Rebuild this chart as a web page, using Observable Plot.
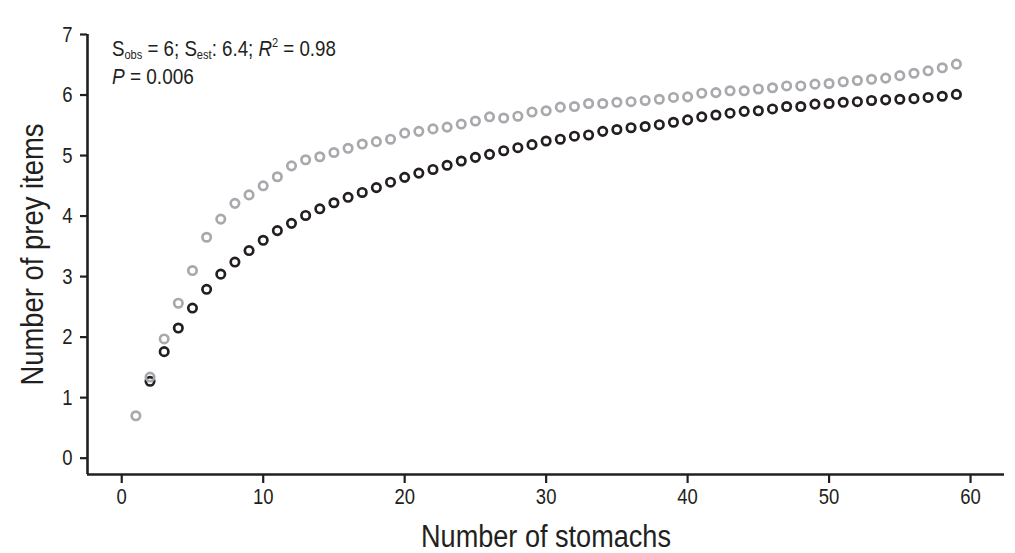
<!DOCTYPE html>
<html>
<head>
<meta charset="utf-8">
<script src="https://cdn.jsdelivr.net/npm/d3@7"></script>
<script src="https://cdn.jsdelivr.net/npm/@observablehq/plot@0.6"></script>
<style>
  html, body { margin: 0; padding: 0; background: #fff; }
  #chart svg { display: block; }
</style>
</head>
<body>
<div id="chart"></div>
<script>
// Number of stomachs (x) for each series
const stomachsObserved = d3.range(2, 60);   // black series, 2..59
const stomachsEstimated = d3.range(1, 60);  // gray series, 1..59

// Observed cumulative prey items (black)
const observedValues = [
  1.27, 1.76, 2.15, 2.48, 2.79, 3.04, 3.24, 3.43, 3.60, 3.76,
  3.88, 4.01, 4.12, 4.22, 4.31, 4.39, 4.47, 4.56, 4.64, 4.71,
  4.77, 4.84, 4.91, 4.97, 5.02, 5.08, 5.13, 5.18, 5.24, 5.27,
  5.32, 5.34, 5.40, 5.43, 5.46, 5.48, 5.51, 5.55, 5.59, 5.64,
  5.67, 5.70, 5.73, 5.74, 5.77, 5.81, 5.81, 5.85, 5.86, 5.88,
  5.89, 5.91, 5.92, 5.93, 5.94, 5.96, 5.98, 6.01
];

// Estimated prey items (gray)
const estimatedValues = [
  0.70, 1.34, 1.97, 2.56, 3.10, 3.65, 3.95, 4.21, 4.35, 4.50,
  4.65, 4.83, 4.93, 4.98, 5.05, 5.12, 5.19, 5.23, 5.27, 5.37,
  5.40, 5.44, 5.47, 5.52, 5.57, 5.64, 5.62, 5.65, 5.72, 5.74,
  5.80, 5.81, 5.86, 5.86, 5.88, 5.89, 5.91, 5.93, 5.96, 5.97,
  6.03, 6.04, 6.07, 6.07, 6.10, 6.12, 6.15, 6.15, 6.18, 6.19,
  6.22, 6.24, 6.26, 6.28, 6.32, 6.36, 6.40, 6.45, 6.51
];

const xTicks = [0, 10, 20, 30, 40, 50, 60];
const yTicks = [0, 1, 2, 3, 4, 5, 6, 7];
const xDomain = [-2.42, 62.4];
const yDomain = [-0.27, 7];

const observed = stomachsObserved.map((s, i) => ({stomachs: s, items: observedValues[i]}));
const estimated = stomachsEstimated.map((s, i) => ({stomachs: s, items: estimatedValues[i]}));

const ink = "#231f20";
const grey = "#a7a9ac";
const font = "'Liberation Sans', Arial, sans-serif";

const plot = Plot.plot({
  width: 1015,
  height: 553,
  marginLeft: 87,
  marginRight: 11,
  marginTop: 34,
  marginBottom: 79,
  style: {fontFamily: font, color: ink, background: "#fff"},
  x: {domain: xDomain},
  y: {domain: yDomain},
  marks: [
    Plot.ruleY([yDomain[0]], {stroke: ink, strokeWidth: 2.6}),
    Plot.ruleX([xDomain[0]], {stroke: ink, strokeWidth: 2.6}),
    Plot.axisX({
      ticks: xTicks, tickSize: 9, tickPadding: 5,
      fontSize: 22, strokeWidth: 2.2, stroke: ink,
      label: "Number of stomachs", labelAnchor: "center", labelArrow: "none",
      labelOffset: 72
    }),
    Plot.axisY({
      ticks: yTicks, tickSize: 7, tickPadding: 8,
      fontSize: 22, strokeWidth: 2.2, stroke: ink,
      label: "Number of prey items", labelAnchor: "center", labelArrow: "none",
      labelOffset: 67
    }),
    Plot.dot(observed, {x: "stomachs", y: "items", r: 4.2, stroke: ink, strokeWidth: 2.7, fill: "none"}),
    Plot.dot(estimated, {x: "stomachs", y: "items", r: 4.2, stroke: grey, strokeWidth: 2.7, fill: "none"})
  ]
});

document.getElementById("chart").appendChild(plot);

const svg = d3.select(plot);

// condensed look: squeeze glyphs horizontally
function squeeze(sel, target) {
  sel.each(function() {
    const len = this.getComputedTextLength();
    const w = typeof target === "function" ? target(len) : target;
    this.setAttribute("textLength", w);
    this.setAttribute("lengthAdjust", "spacingAndGlyphs");
  });
}

svg.selectAll("g[aria-label='x-axis label'] text, g[aria-label='y-axis label'] text")
  .style("font-size", "31px");
squeeze(svg.selectAll("g[aria-label='x-axis label'] text"), 250);
squeeze(svg.selectAll("g[aria-label='y-axis label'] text"), 262);
squeeze(svg.selectAll("g[aria-label='x-axis tick label'] text, g[aria-label='y-axis tick label'] text"), len => len * 0.84);

// annotation
const sx = plot.scale("x"), sy = plot.scale("y");
const ax = sx.apply(-0.66);
const ann = svg.append("g")
  .attr("font-family", font).attr("font-size", 22).attr("fill", ink)
  .attr("text-anchor", "start");
const t1 = ann.append("text").attr("x", ax).attr("y", sy.apply(6.64));
t1.append("tspan").text("S");
t1.append("tspan").attr("font-size", 13).attr("dy", 3).text("obs");
t1.append("tspan").attr("dy", -3).text(" = 6; S");
t1.append("tspan").attr("font-size", 13).attr("dy", 3).text("est");
t1.append("tspan").attr("dy", -3).text(": 6.4; ");
t1.append("tspan").attr("font-style", "italic").text("R");
t1.append("tspan").attr("font-size", 13).attr("dy", -9).text("2");
t1.append("tspan").attr("dy", 9).text(" = 0.98");
const t2 = ann.append("text").attr("x", ax).attr("y", sy.apply(6.17));
t2.append("tspan").attr("font-style", "italic").text("P");
t2.append("tspan").text(" = 0.006");
squeeze(t1, 224);
squeeze(t2, 82);
</script>
</body>
</html>
